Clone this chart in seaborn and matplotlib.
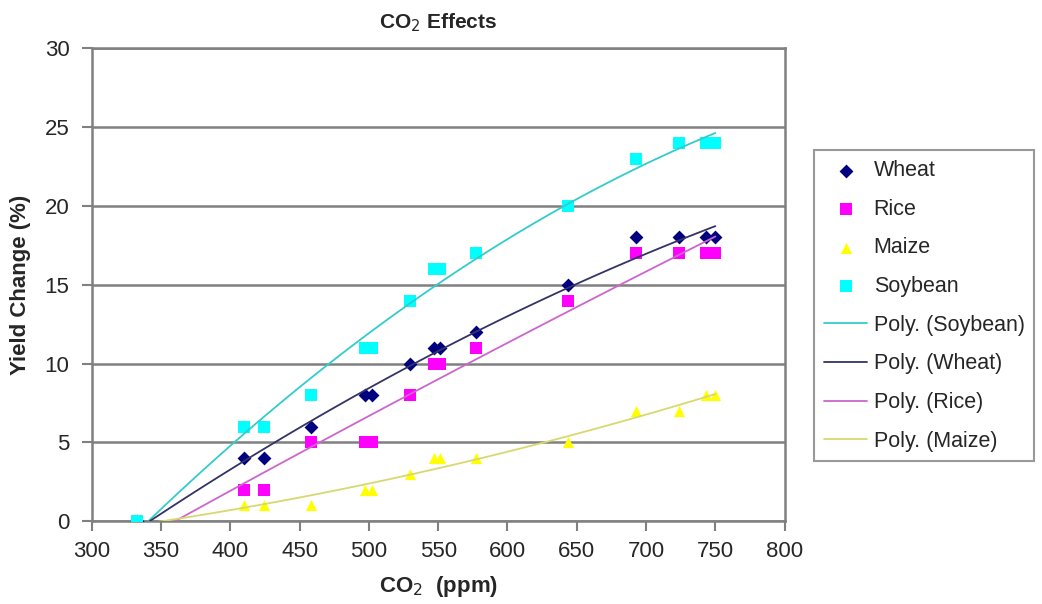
import numpy as np
import pandas as pd
import matplotlib
matplotlib.use("Agg")
import matplotlib.pyplot as plt
import seaborn as sns


sns.set_theme(style="white")
plt.rcParams["font.family"] = ["Liberation Sans", "DejaVu Sans"]

# CO2 concentrations (ppm) shared by all crops
co2 = [333, 410, 424, 458, 497, 502, 530, 547, 551, 577, 644, 693, 724, 743, 750]

# yield change (%)
wheat = [0, 4, 4, 6, 8, 8, 10, 11, 11, 12, 15, 18, 18, 18, 18]
rice = [0, 2, 2, 5, 5, 5, 8, 10, 10, 11, 14, 17, 17, 17, 17]
maize = [0, 1, 1, 1, 2, 2, 3, 4, 4, 4, 5, 7, 7, 8, 8]
soybean = [0, 6, 6, 8, 11, 11, 14, 16, 16, 17, 20, 23, 24, 24, 24]

crops = ["Wheat", "Rice", "Maize", "Soybean"]
point_colors = {"Wheat": "#000080", "Rice": "#FF00FF", "Maize": "#FFFF00", "Soybean": "#00FFFF"}
line_colors = {"Wheat": "#333366", "Rice": "#CC66CC", "Maize": "#D8D870", "Soybean": "#33CCCC"}
markers = {"Wheat": "D", "Rice": "s", "Maize": "^", "Soybean": "s"}
sizes = {"Wheat": 50, "Rice": 65, "Maize": 65, "Soybean": 85}

df = pd.DataFrame({
    "co2": co2 * 4,
    "yield": wheat + rice + maize + soybean,
    "crop": np.repeat(crops, len(co2)),
})

fig = plt.figure(figsize=(10.42, 6.04), dpi=100)
ax = fig.add_axes([0.088, 0.137, 0.665, 0.783])

for crop in crops:
    sub = df[df["crop"] == crop]
    sns.scatterplot(
        data=sub, x="co2", y="yield", color=point_colors[crop],
        marker=markers[crop], s=sizes[crop], linewidth=0, label=crop,
        legend=False, ax=ax, zorder=3,
    )

for crop in ["Soybean", "Wheat", "Rice", "Maize"]:
    sub = df[df["crop"] == crop]
    sns.regplot(
        data=sub, x="co2", y="yield", order=2, ci=None, scatter=False,
        label=f"Poly. ({crop})", ax=ax,
        line_kws={"color": line_colors[crop], "linewidth": 1.3, "zorder": 4},
    )

ax.set_xlim(300, 800)
ax.set_ylim(0, 30)
ax.set_xticks(range(300, 801, 50))
ax.set_yticks(range(0, 31, 5))
ax.yaxis.grid(True, color="#808080", linewidth=1.8)
ax.set_axisbelow(True)
for side in ["left", "right", "top", "bottom"]:
    ax.spines[side].set_color("#808080")
    ax.spines[side].set_linewidth(1.8)
ax.tick_params(axis="both", labelsize=16, direction="out", length=7,
               width=1.5, color="#808080", bottom=True, left=True)
ax.tick_params(axis="y", pad=9)
ax.tick_params(axis="x", pad=7)

ax.set_title("CO$_2$ Effects", fontsize=15, fontweight="bold", pad=14)
ax.set_xlabel("CO$_2$  (ppm)", fontsize=16, fontweight="bold", labelpad=9)
ax.set_ylabel("Yield Change (%)", fontsize=16, fontweight="bold", labelpad=10)

handles, labels = ax.get_legend_handles_labels()
order = crops + [f"Poly. ({c})" for c in ["Soybean", "Wheat", "Rice", "Maize"]]
lookup = dict(zip(labels, handles))
leg = ax.legend(
    [lookup[l] for l in order], order, loc="upper left",
    bbox_to_anchor=(1.043, 0.784), fontsize=15.5, frameon=True,
    fancybox=False, edgecolor="#808080", handlelength=2.0,
    handletextpad=0.3, borderpad=0.45, labelspacing=0.82,
    borderaxespad=0,
)
leg.get_frame().set_linewidth(1.5)

fig.savefig("out.png", dpi=100)
